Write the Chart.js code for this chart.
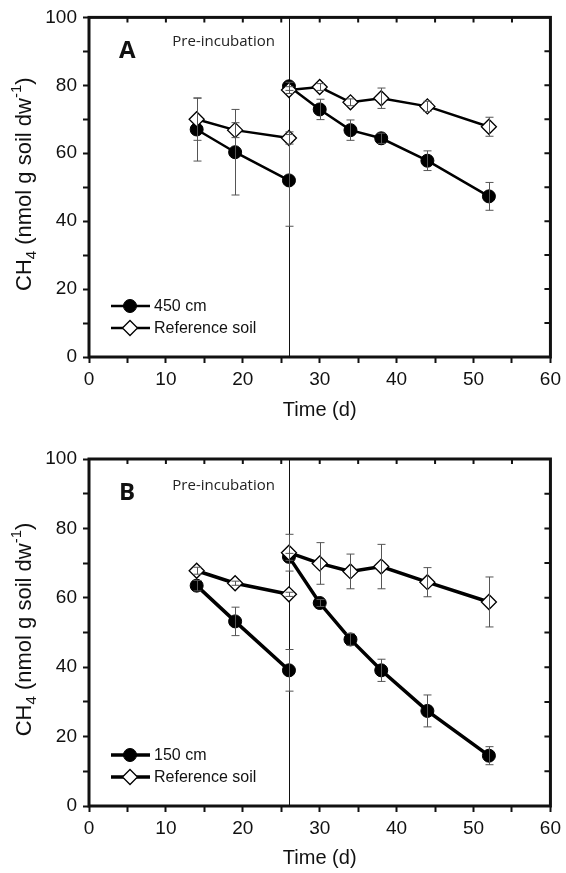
<!DOCTYPE html>
<html>
<head>
<meta charset="utf-8">
<script src="https://cdn.jsdelivr.net/npm/chart.js@4.4.0/dist/chart.umd.min.js"></script>
<style>
  html, body { margin: 0; padding: 0; background: #fff; }
  .wrap { position: absolute; left: 0; width: 566px; }
  #wrapA { top: 0; height: 430px; }
  #wrapB { top: 430px; height: 443px; }
</style>
</head>
<body>
<div class="wrap" id="wrapA"><canvas id="chartA"></canvas></div>
<div class="wrap" id="wrapB"><canvas id="chartB"></canvas></div>
<script>
const preDays = [14, 19, 26]
const postDays = [26, 30, 34, 38, 44, 52]
const splitDay = 26

// panel A
const a450Pre = [67.0, 60.3, 52.0]
const a450PreErr = [9.3, 12.6, 13.5]
const a450Post = [79.7, 72.9, 66.8, 64.4, 57.8, 47.3]
const a450PostErr = [1.2, 3.0, 3.0, 1.5, 2.9, 4.1]
const aRefPre = [70.0, 66.8, 64.5]
const aRefPreErr = [6.2, 2.2, 1.8]
const aRefPost = [78.6, 79.5, 75.0, 76.2, 73.8, 67.8]
const aRefPostErr = [1.0, 1.0, 1.0, 3.0, 1.5, 2.8]

// panel B
const b150Pre = [63.5, 53.2, 39.1]
const b150PreErr = [1.5, 4.1, 6.0]
const b150Post = [71.8, 58.5, 48.0, 39.1, 27.4, 14.5]
const b150PostErr = [1.0, 1.0, 1.7, 3.2, 4.6, 2.6]
const bRefPre = [67.8, 64.2, 61.0]
const bRefPreErr = [1.0, 0.6, 0.6]
const bRefPost = [73.0, 69.9, 67.6, 69.0, 64.5, 58.8]
const bRefPostErr = [5.3, 6.0, 5.0, 6.4, 4.2, 7.2]

const xTicks = [0, 10, 20, 30, 40, 50, 60]
const yTicks = [0, 20, 40, 60, 80, 100]

// join the two runs with a null so the line breaks at the pre-incubation end
function joinRuns (pre, post) {
  return [
    ...pre.map((y, i) => ({x: preDays[i], y: y})),
    {x: splitDay, y: null},
    ...post.map((y, i) => ({x: postDays[i], y: y}))
  ]
}
function joinErr (pre, post) {
  return [...pre, null, ...post]
}

const tickFont = {family: 'Liberation Sans', size: 19}

const panelPlugin = {
  id: 'panel',
  beforeDatasetsDraw (chart) {
    const {ctx, chartArea: a, scales: {x}} = chart
    const px = Math.round(x.getPixelForValue(splitDay)) + 0.5
    ctx.save()
    ctx.strokeStyle = '#111'
    ctx.lineWidth = 1
    ctx.beginPath()
    ctx.moveTo(px, a.top)
    ctx.lineTo(px, a.bottom)
    ctx.stroke()
    ctx.restore()
  },
  afterDatasetsDraw (chart) {
    const {ctx, chartArea: a, scales: {x, y}} = chart
    const o = chart.options.plugins.panel
    ctx.save()

    // error bars
    ctx.strokeStyle = '#555'
    ctx.lineWidth = 1
    chart.data.datasets.forEach((ds) => {
      ds.data.forEach((p, i) => {
        const e = ds.err[i]
        if (p.y === null || e === null) return
        const cx = Math.round(x.getPixelForValue(p.x)) + 0.5
        const y1 = y.getPixelForValue(p.y + e)
        const y2 = y.getPixelForValue(p.y - e)
        ctx.beginPath()
        ctx.moveTo(cx, y1); ctx.lineTo(cx, y2)
        ctx.moveTo(cx - 4, y1); ctx.lineTo(cx + 4, y1)
        ctx.moveTo(cx - 4, y2); ctx.lineTo(cx + 4, y2)
        ctx.stroke()
      })
    })

    // frame
    ctx.strokeStyle = '#111'
    ctx.lineWidth = 3
    ctx.strokeRect(a.left, a.top, a.right - a.left, a.bottom - a.top)

    // inward ticks on top and right
    ctx.lineWidth = 2
    ctx.beginPath()
    for (let v = 5; v < 60; v += 5) {
      const px = x.getPixelForValue(v)
      ctx.moveTo(px, a.top); ctx.lineTo(px, a.top + 5)
    }
    for (let v = 10; v < 100; v += 10) {
      const py = y.getPixelForValue(v)
      ctx.moveTo(a.right, py); ctx.lineTo(a.right - 6, py)
    }
    ctx.stroke()

    // panel letter and pre-incubation note
    ctx.fillStyle = '#111'
    ctx.textBaseline = 'middle'
    ctx.textAlign = 'left'
    ctx.font = 'bold 24px "Open Sans"'
    ctx.fillText(o.letter, 119, a.top + 34)
    ctx.fillStyle = '#222'
    ctx.textAlign = 'right'
    ctx.font = '15px "Open Sans"'
    ctx.fillText('Pre-incubation', x.getPixelForValue(splitDay) - 14, a.top + o.noteDy)

    // legend
    const rows = [chart.data.datasets[1], chart.data.datasets[0]]
    ctx.textAlign = 'left'
    ctx.font = '16px "Liberation Sans"'
    rows.forEach((ds, i) => {
      const ly = a.bottom - 51 + i * 22
      ctx.strokeStyle = '#000'
      ctx.lineWidth = ds.borderWidth
      ctx.beginPath()
      ctx.moveTo(111, ly); ctx.lineTo(150, ly)
      ctx.stroke()
      ctx.fillStyle = ds.pointBackgroundColor
      ctx.strokeStyle = '#000'
      ctx.lineWidth = ds.pointBorderWidth
      Chart.helpers.drawPoint(ctx, {pointStyle: ds.pointStyle, radius: ds.pointRadius, borderWidth: ds.pointBorderWidth, rotation: 0}, 130, ly)
      ctx.fillStyle = '#111'
      ctx.fillText(ds.label, 154, ly + 1)
    })

    // y axis title with subscript and superscript
    const parts = [
      ['CH', 22, 0], ['4', 15, 5], [' (nmol g soil dw', 22, 0], ['-1', 15, -10], [')', 22, 0]
    ]
    ctx.save()
    ctx.translate(31, (a.top + a.bottom) / 2 - 3)
    ctx.rotate(-Math.PI / 2)
    ctx.textBaseline = 'alphabetic'
    ctx.textAlign = 'left'
    ctx.fillStyle = '#111'
    let total = 0
    parts.forEach((p) => { ctx.font = p[1] + 'px "Liberation Sans"'; total += ctx.measureText(p[0]).width })
    let tx = -total / 2
    parts.forEach((p) => {
      ctx.font = p[1] + 'px "Liberation Sans"'
      ctx.fillText(p[0], tx, p[2])
      tx += ctx.measureText(p[0]).width
    })
    ctx.restore()

    ctx.restore()
  }
}

function makePanel (id, cfg) {
  const datasets = [
    {
      label: 'Reference soil',
      data: joinRuns(cfg.refPre, cfg.refPost),
      err: joinErr(cfg.refPreErr, cfg.refPostErr),
      borderColor: '#000',
      borderWidth: cfg.lineWidth,
      pointStyle: 'rectRot',
      pointRadius: 7.5,
      pointBackgroundColor: '#fff',
      pointBorderColor: '#000',
      pointBorderWidth: 1.3
    },
    {
      label: cfg.depthLabel,
      data: joinRuns(cfg.depPre, cfg.depPost),
      err: joinErr(cfg.depPreErr, cfg.depPostErr),
      borderColor: '#000',
      borderWidth: cfg.lineWidth,
      pointStyle: 'circle',
      pointRadius: 6.5,
      pointBackgroundColor: '#000',
      pointBorderColor: '#000',
      pointBorderWidth: 1
    }
  ]

  return new Chart(id, {
    type: 'line',
    data: {datasets: datasets},
    plugins: [panelPlugin],
    options: {
      responsive: true,
      maintainAspectRatio: false,
      animation: false,
      spanGaps: false,
      layout: {padding: {top: cfg.padTop, right: 12, left: 0, bottom: 0}},
      plugins: {
        legend: {display: false},
        tooltip: {enabled: false},
        panel: {letter: cfg.letter, noteDy: cfg.noteDy}
      },
      scales: {
        x: {
          type: 'linear',
          min: 0,
          max: 60,
          afterBuildTicks: (s) => {
            s.ticks = []
            for (let v = 0; v <= 60; v += 5) s.ticks.push({value: v})
          },
          ticks: {
            autoSkip: false,
            maxRotation: 0,
            padding: 5,
            color: '#111',
            font: tickFont,
            callback: (v) => xTicks.includes(v) ? v : ''
          },
          grid: {drawOnChartArea: false, tickLength: 6, tickWidth: 2, color: '#111'},
          border: {display: false},
          title: {
            display: true,
            text: 'Time (d)',
            color: '#111',
            font: {family: 'Liberation Sans', size: 20},
            padding: {top: 0, bottom: cfg.titlePad}
          },
          afterFit: (s) => { s.height = cfg.xHeight }
        },
        y: {
          min: 0,
          max: 100,
          afterBuildTicks: (s) => {
            s.ticks = []
            for (let v = 0; v <= 100; v += 10) s.ticks.push({value: v})
          },
          ticks: {
            autoSkip: false,
            padding: 6,
            color: '#111',
            font: tickFont,
            callback: (v) => yTicks.includes(v) ? v : ''
          },
          grid: {drawOnChartArea: false, tickLength: 6, tickWidth: 2, color: '#111'},
          border: {display: false},
          afterFit: (s) => { s.width = 89 }
        }
      }
    }
  })
}

makePanel('chartA', {
  letter: 'A', depthLabel: '450 cm', lineWidth: 2.5,
  depPre: a450Pre, depPreErr: a450PreErr, depPost: a450Post, depPostErr: a450PostErr,
  refPre: aRefPre, refPreErr: aRefPreErr, refPost: aRefPost, refPostErr: aRefPostErr,
  padTop: 11, xHeight: 73, titlePad: 8, noteDy: 24
})

makePanel('chartB', {
  letter: 'B', depthLabel: '150 cm', lineWidth: 3.5,
  depPre: b150Pre, depPreErr: b150PreErr, depPost: b150Post, depPostErr: b150PostErr,
  refPre: bRefPre, refPreErr: bRefPreErr, refPost: bRefPost, refPostErr: bRefPostErr,
  padTop: 29, xHeight: 67, titlePad: 3, noteDy: 27
})
</script>
</body>
</html>
